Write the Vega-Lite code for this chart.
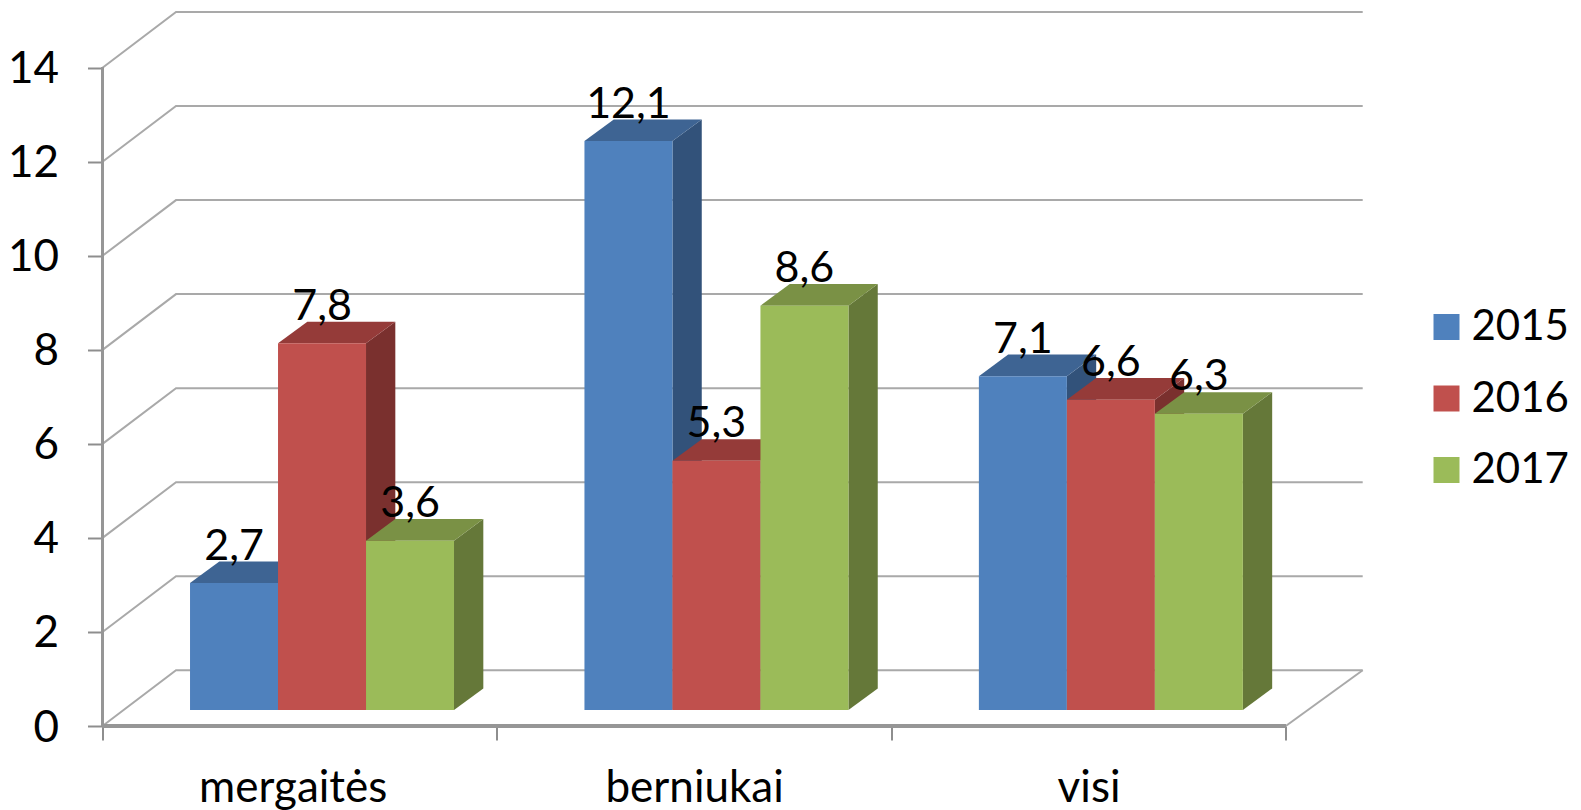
{
"$schema":"https://vega.github.io/schema/vega-lite/v6.json",
"autosize":{"type":"none"},
"padding":{"left":102.5,"top":12,"right":218.3,"bottom":84},
"width":1260.2,"height":714,
"background":"white",
"config":{"view":{"stroke":null},"font":"Lato","text":{"font":"Lato"}},
"datasets":{
"bars":[
{"category":"mergaitės","year":"2015","value":2.7},
{"category":"mergaitės","year":"2016","value":7.8},
{"category":"mergaitės","year":"2017","value":3.6},
{"category":"berniukai","year":"2015","value":12.1},
{"category":"berniukai","year":"2016","value":5.3},
{"category":"berniukai","year":"2017","value":8.6},
{"category":"visi","year":"2015","value":7.1},
{"category":"visi","year":"2016","value":6.6},
{"category":"visi","year":"2017","value":6.3}
],
"ticks":[{"tick":0},{"tick":2},{"tick":4},{"tick":6},{"tick":8},{"tick":10},{"tick":12},{"tick":14}]
},
"data":{"name":"bars"},
"transform":[
{"calculate":"indexof(['mergaitės','berniukai','visi'],datum.category)+0.2219+0.2231*indexof(['2015','2016','2017'],datum.year)","as":"x0"},
{"calculate":"datum.x0+0.2231","as":"x1"},
{"calculate":"0.34","as":"b"},
{"calculate":"0.34+datum.value","as":"t"},
{"calculate":"replace(format(datum.value,'.1f'),'.',',')","as":"label"}
],
"encoding":{
"x":{"type":"quantitative","scale":{"domain":[0,3.195],"nice":false,"zero":false}},
"y":{"type":"quantitative","scale":{"domain":[0,15.185],"nice":false,"zero":false}}
},
"layer":[
{"data":{"name":"ticks"},
 "transform":[
  {"calculate":"[0,0.1864,3.195]","as":"gx"},
  {"calculate":"[datum.tick,datum.tick+1.185,datum.tick+1.185]","as":"gy"},
  {"flatten":["gx","gy"]}],
 "mark":{"type":"line","stroke":"#a9a9a9","strokeWidth":2,"clip":false},
 "encoding":{"x":{"field":"gx","type":"quantitative","axis":{"values":[0,1,2,3],"title":null,"grid":false,"domain":false,"tickColor":"#8e8e8e","tickWidth":2,"tickSize":14,"labelFont":"Lato","labelFontSize":44,"labelColor":"black","labelPadding":26,"labelOffset":{"expr":"datum.value==0?190.2:197.2"},"labelLimit":500,"labelFlush":false,"labelBound":false,"labelOverlap":false,"labelExpr":"datum.value==0?'mergaitės':datum.value==1?'berniukai':datum.value==2?'visi':''"}},
  "y":{"field":"gy","type":"quantitative","axis":{"values":[0,2,4,6,8,10,12,14],"title":null,"grid":false,"domain":false,"tickColor":"#8e8e8e","tickWidth":2,"tickSize":15,"labelFont":"Lato","labelFontSize":44,"labelColor":"black","labelPadding":29,"labelOffset":2,"labelOverlap":false,"labelBound":false,"format":"d"}},
  "detail":{"field":"tick"}}},
{"data":{"name":"ticks"},
 "transform":[{"filter":"datum.tick==0"},
  {"calculate":"[3,3.195]","as":"gx"},
  {"calculate":"[0,1.185]","as":"gy"},
  {"flatten":["gx","gy"]}],
 "mark":{"type":"line","stroke":"#a9a9a9","strokeWidth":2},
 "encoding":{"x":{"field":"gx","type":"quantitative"},"y":{"field":"gy","type":"quantitative"}}},
{"mark":{"type":"rule","stroke":"#969696","strokeWidth":3},
 "encoding":{"x":{"datum":0,"type":"quantitative"},"y":{"datum":0,"type":"quantitative"},"y2":{"datum":14}}},
{"mark":{"type":"rule","stroke":"#969696","strokeWidth":3},
 "encoding":{"y":{"datum":0,"type":"quantitative"},"x":{"datum":0,"type":"quantitative"},"x2":{"datum":3}}},
{"transform":[
  {"calculate":"[datum.x1,datum.x1+0.0743]","as":"sx"},
  {"calculate":"[datum.b,datum.b+0.46]","as":"sy0"},
  {"calculate":"[datum.t,datum.t+0.46]","as":"sy1"},
  {"flatten":["sx","sy0","sy1"]}],
 "mark":{"type":"area","orient":"vertical","opacity":1},
 "encoding":{"x":{"field":"sx","type":"quantitative"},"y":{"field":"sy0","type":"quantitative","stack":null},"y2":{"field":"sy1"},
  "detail":{"field":"category"},
  "color":{"field":"year","type":"nominal","legend":null,"scale":{"domain":["2015","2016","2017"],"range":["#32527A","#7A302E","#657839"]}}}},
{"transform":[
  {"calculate":"[datum.x0,datum.x0+0.0743,datum.x1,datum.x1+0.0743]","as":"tx"},
  {"calculate":"[datum.t,datum.t,datum.t,datum.t+0.46]","as":"ty0"},
  {"calculate":"[datum.t,datum.t+0.46,datum.t+0.46,datum.t+0.46]","as":"ty1"},
  {"flatten":["tx","ty0","ty1"]}],
 "mark":{"type":"area","orient":"vertical","opacity":1},
 "encoding":{"x":{"field":"tx","type":"quantitative"},"y":{"field":"ty0","type":"quantitative","stack":null},"y2":{"field":"ty1"},
  "detail":{"field":"category"},
  "color":{"field":"year","type":"nominal","legend":null,"scale":{"domain":["2015","2016","2017"],"range":["#3E6493","#953B39","#7A9145"]}}}},
{"mark":{"type":"bar","opacity":1},
 "encoding":{"x":{"field":"x0","type":"quantitative"},"x2":{"field":"x1"},"y":{"field":"b","type":"quantitative","stack":null},"y2":{"field":"t"},
  "color":{"field":"year","type":"nominal","scale":{"domain":["2015","2016","2017"],"range":["#4F81BD","#C0504D","#9BBB59"]},
   "legend":{"title":null,"orient":"none","legendX":1323,"legendY":294,"symbolType":"square","symbolSize":676,"symbolStrokeWidth":0,"symbolOpacity":1,"labelFont":"Lato","labelFontSize":42,"labelColor":"black","labelOffset":4,"rowPadding":29.5,"labelLimit":200}}}},
{"transform":[{"calculate":"(datum.x0+datum.x1)/2","as":"cx"},{"calculate":"datum.t+0.5","as":"ly"}],
 "mark":{"type":"text","font":"Lato","fontSize":43,"color":"black","align":"center","baseline":"alphabetic"},
 "encoding":{"x":{"field":"cx","type":"quantitative"},"y":{"field":"ly","type":"quantitative"},"text":{"field":"label"}}}
],
"resolve":{"scale":{"color":"independent"}}
}
